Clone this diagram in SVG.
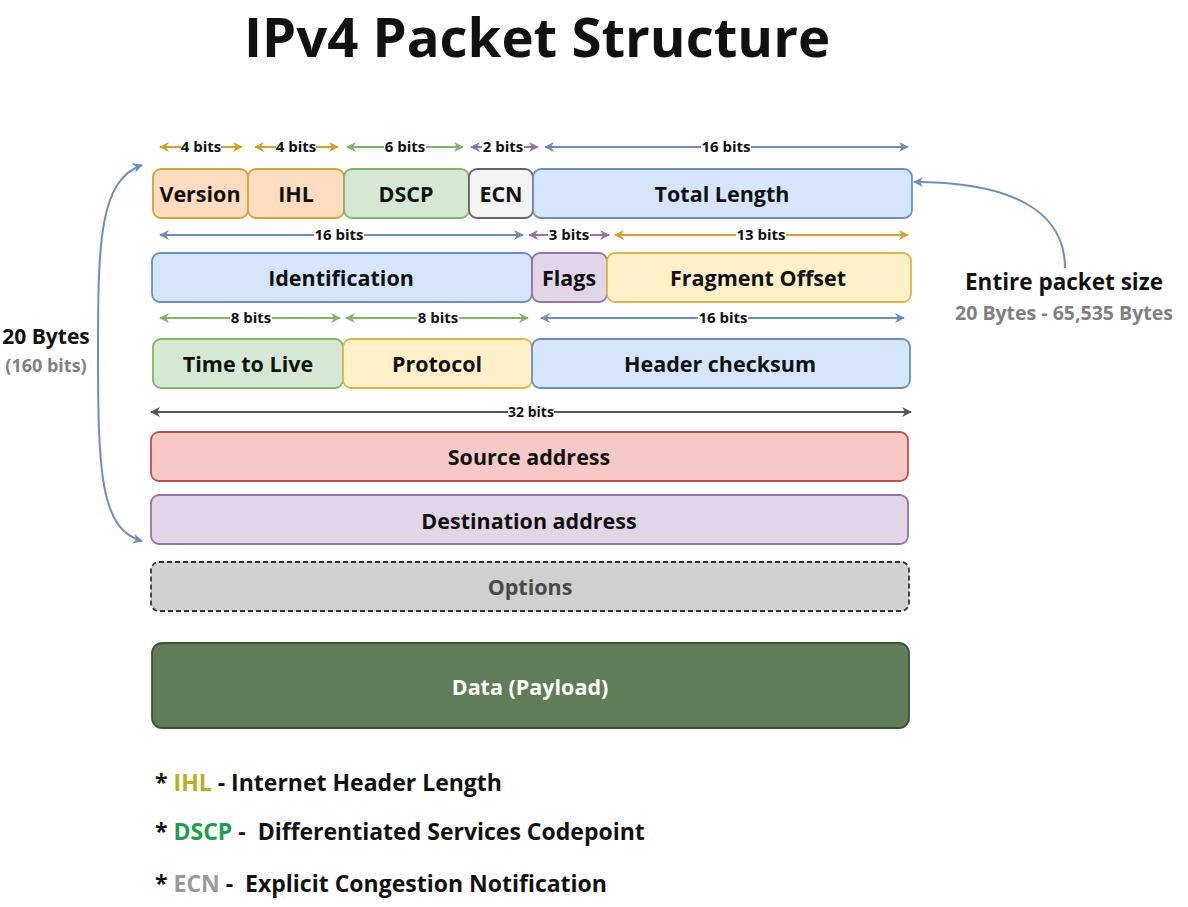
<svg xmlns="http://www.w3.org/2000/svg" width="1188" height="907" viewBox="0 0 1188 907">
<defs>
<marker id="mGold" viewBox="0 0 10 10" refX="9" refY="5" markerWidth="10" markerHeight="10" markerUnits="userSpaceOnUse" orient="auto-start-reverse"><path d="M0,0 L10,5 L0,10 L3,5 Z" fill="#d6a02a"/></marker>
<marker id="mGreen" viewBox="0 0 10 10" refX="9" refY="5" markerWidth="10" markerHeight="10" markerUnits="userSpaceOnUse" orient="auto-start-reverse"><path d="M0,0 L10,5 L0,10 L3,5 Z" fill="#82b366"/></marker>
<marker id="mPurple" viewBox="0 0 10 10" refX="9" refY="5" markerWidth="10" markerHeight="10" markerUnits="userSpaceOnUse" orient="auto-start-reverse"><path d="M0,0 L10,5 L0,10 L3,5 Z" fill="#9673a6"/></marker>
<marker id="mBlue" viewBox="0 0 10 10" refX="9" refY="5" markerWidth="10" markerHeight="10" markerUnits="userSpaceOnUse" orient="auto-start-reverse"><path d="M0,0 L10,5 L0,10 L3,5 Z" fill="#6c8ebf"/></marker>
<marker id="mGray" viewBox="0 0 10 10" refX="9" refY="5" markerWidth="10" markerHeight="10" markerUnits="userSpaceOnUse" orient="auto-start-reverse"><path d="M0,0 L10,5 L0,10 L3,5 Z" fill="#555555"/></marker>
</defs>
<style>
text{font-family:"Open Sans","Noto Sans","DejaVu Sans",sans-serif;font-weight:700;fill:#111;white-space:pre}
.box{stroke-width:1.8}
.lbl{font-size:21.5px;font-weight:700;text-anchor:middle;dominant-baseline:central}
.bits{font-size:15px;font-weight:700;text-anchor:middle}
.bg{fill:#ffffff}
.ln{fill:none;stroke-width:2}
.gold{stroke:#d6a02a}
.green{stroke:#82b366}
.purple{stroke:#9673a6}
.blue{stroke:#6c8ebf}
.gray{stroke:#555555}
.orange{fill:#fddcbf;stroke:#d6a33a}
.lgreen{fill:#d5e8d4;stroke:#82b366}
.lgray{fill:#f3f3f3;stroke:#666666}
.lblue{fill:#d6e5fb;stroke:#6c8ebf}
.lpurple{fill:#e1d5e7;stroke:#9673a6}
.lyellow{fill:#fff0c8;stroke:#d6b656}
.lred{fill:#f8c8c7;stroke:#b85450}
</style>
<rect width="1188" height="907" fill="#ffffff"/>
<text x="537" y="57" font-size="54.5" text-anchor="middle">IPv4 Packet Structure</text>

<g id="connectors">
<path class="ln gold" d="M160,147 H242" marker-start="url(#mGold)" marker-end="url(#mGold)"/>
<path class="ln gold" d="M255,147 H338" marker-start="url(#mGold)" marker-end="url(#mGold)"/>
<path class="ln green" d="M347,147 H463" marker-start="url(#mGreen)" marker-end="url(#mGreen)"/>
<path class="ln purple" d="M471,147 H538" marker-start="url(#mPurple)" marker-end="url(#mPurple)"/>
<path class="ln blue" d="M545,147 H908" marker-start="url(#mBlue)" marker-end="url(#mBlue)"/>
<path class="ln blue" d="M160,235 H523" marker-start="url(#mBlue)" marker-end="url(#mBlue)"/>
<path class="ln purple" d="M529,235 H609" marker-start="url(#mPurple)" marker-end="url(#mPurple)"/>
<path class="ln gold" d="M615,235 H908" marker-start="url(#mGold)" marker-end="url(#mGold)"/>
<path class="ln green" d="M160,318 H340" marker-start="url(#mGreen)" marker-end="url(#mGreen)"/>
<path class="ln green" d="M346,318 H528" marker-start="url(#mGreen)" marker-end="url(#mGreen)"/>
<path class="ln blue" d="M541,318 H904" marker-start="url(#mBlue)" marker-end="url(#mBlue)"/>
<path class="ln gray" d="M151,412 H911" marker-start="url(#mGray)" marker-end="url(#mGray)"/>
<path class="ln blue" d="M142,165 C100,180 98,240 98,350 C98,470 100,530 142,541" marker-start="url(#mBlue)" marker-end="url(#mBlue)"/>
<path class="ln blue" d="M1065,268 C1065,210 1010,182 914,182" marker-end="url(#mBlue)"/>

<rect class="bg" x="181" y="139" width="40" height="15"/><text class="bits" x="201" y="152">4 bits</text>
<rect class="bg" x="276" y="139" width="40" height="15"/><text class="bits" x="296" y="152">4 bits</text>
<rect class="bg" x="384" y="139" width="42" height="15"/><text class="bits" x="405" y="152">6 bits</text>
<rect class="bg" x="482" y="139" width="42" height="15"/><text class="bits" x="503" y="152">2 bits</text>
<rect class="bg" x="701" y="139" width="50" height="15"/><text class="bits" x="726" y="152">16 bits</text>
<rect class="bg" x="314" y="227" width="50" height="15"/><text class="bits" x="339" y="240">16 bits</text>
<rect class="bg" x="548" y="227" width="42" height="15"/><text class="bits" x="569" y="240">3 bits</text>
<rect class="bg" x="736" y="227" width="50" height="15"/><text class="bits" x="761" y="240">13 bits</text>
<rect class="bg" x="230" y="310" width="42" height="15"/><text class="bits" x="251" y="323">8 bits</text>
<rect class="bg" x="417" y="310" width="42" height="15"/><text class="bits" x="438" y="323">8 bits</text>
<rect class="bg" x="698" y="310" width="50" height="15"/><text class="bits" x="723" y="323">16 bits</text>
<rect class="bg" x="508" y="405" width="46" height="14"/><text class="bits" x="531" y="417" style="font-size:14px">32 bits</text>
</g>

<g id="version"><rect class="box orange" x="153" y="169" width="95" height="49" rx="8"/><text class="lbl" x="200" y="193">Version</text></g>
<g id="ihl"><rect class="box orange" x="248" y="169" width="96" height="49" rx="8"/><text class="lbl" x="296" y="193">IHL</text></g>
<g id="dscp"><rect class="box lgreen" x="344" y="169" width="125" height="49" rx="8"/><text class="lbl" x="406" y="193">DSCP</text></g>
<g id="ecn"><rect class="box lgray" x="469" y="169" width="64" height="49" rx="8"/><text class="lbl" x="501" y="193">ECN</text></g>
<g id="total-length"><rect class="box lblue" x="533" y="169" width="379" height="49" rx="8"/><text class="lbl" x="722" y="193">Total Length</text></g>

<g id="identification"><rect class="box lblue" x="152" y="253" width="380" height="49" rx="8"/><text class="lbl" x="341" y="277">Identification</text></g>
<g id="flags"><rect class="box lpurple" x="532" y="253" width="75" height="49" rx="8"/><text class="lbl" x="569" y="277">Flags</text></g>
<g id="fragment-offset"><rect class="box lyellow" x="607" y="253" width="304" height="49" rx="8"/><text class="lbl" x="758" y="277">Fragment Offset</text></g>

<g id="ttl"><rect class="box lgreen" x="153" y="339" width="190" height="49" rx="8"/><text class="lbl" x="248" y="363">Time to Live</text></g>
<g id="protocol"><rect class="box lyellow" x="343" y="339" width="189" height="49" rx="8"/><text class="lbl" x="437" y="363">Protocol</text></g>
<g id="header-checksum"><rect class="box lblue" x="532" y="339" width="378" height="49" rx="8"/><text class="lbl" x="720" y="363">Header checksum</text></g>

<g id="source"><rect class="box lred" x="151" y="432" width="757" height="49" rx="8"/><text class="lbl" x="529" y="456">Source address</text></g>
<g id="destination"><rect class="box lpurple" x="151" y="495" width="757" height="49" rx="8"/><text class="lbl" x="529" y="520">Destination address</text></g>
<g id="options"><rect x="151" y="562" width="758" height="49" rx="8" fill="#d0d0d0" stroke="#333333" stroke-width="1.8" stroke-dasharray="5 3"/><text class="lbl" x="530" y="586" style="fill:#4a4a4a">Options</text></g>
<g id="data"><rect x="152" y="643" width="757" height="85" rx="10" fill="#617d57" stroke="#3f5636" stroke-width="1.8"/><text class="lbl" x="530" y="686" style="fill:#ffffff">Data (Payload)</text></g>

<g id="header-size">
<text x="46" y="344" font-size="21" text-anchor="middle">20 Bytes</text>
<text x="46" y="372" font-size="18" text-anchor="middle" style="fill:#808080">(160 bits)</text>
</g>
<g id="packet-size">
<text x="1064" y="290" font-size="22.5" text-anchor="middle">Entire packet size</text>
<text x="1064" y="320" font-size="19.5" text-anchor="middle" style="fill:#808080">20 Bytes - 65,535 Bytes</text>
</g>

<g id="legend" font-size="23">
<text x="155" y="791">* <tspan style="fill:#b5b020">IHL</tspan> - Internet Header Length</text>
<text x="155" y="840">* <tspan style="fill:#1f9c4e">DSCP</tspan> -  Differentiated Services Codepoint</text>
<text x="155" y="892">* <tspan style="fill:#9a9a9a">ECN</tspan> -  Explicit Congestion Notification</text>
</g>
</svg>
